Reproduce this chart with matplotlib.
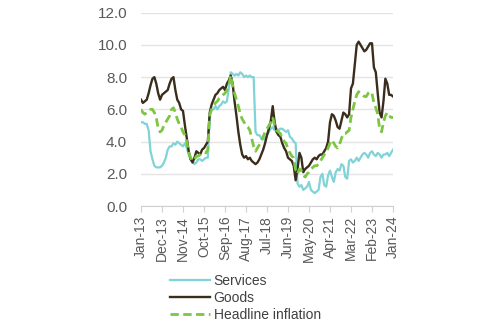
import matplotlib
matplotlib.use("Agg")
import matplotlib.pyplot as plt
import numpy as np

plt.rcParams['font.family'] = ['Liberation Sans', 'DejaVu Sans']

# monthly, Jan-13 .. Jan-24
tick_labels = ["Jan-13", "Dec-13", "Nov-14", "Oct-15", "Sep-16", "Aug-17", "Jul-18",
               "Jun-19", "May-20", "Apr-21", "Mar-22", "Feb-23", "Jan-24"]

services = [5.2, 5.2, 5.1, 5.1, 4.7, 3.4, 2.9, 2.5, 2.4, 2.4, 2.4, 2.5,
            2.7, 3.0, 3.5, 3.7, 3.7, 3.9, 3.8, 4.0, 3.9, 3.8, 3.7, 3.9,
            3.6, 3.2, 2.9, 2.8, 2.6, 2.7, 2.9, 2.9, 2.8, 2.9, 3.0, 3.0,
            5.5, 6.0, 6.0, 6.2, 6.0, 6.2, 6.3, 6.5, 6.4, 6.5, 7.3, 8.3,
            8.2, 8.1, 8.2, 8.1, 8.3, 8.2, 8.0, 8.1, 8.0, 8.1, 8.0, 8.0,
            4.6, 4.4, 4.4, 4.2, 4.3, 4.1, 4.4, 4.6, 4.8, 4.9, 4.7, 4.8,
            4.7, 4.8, 4.8, 4.7, 4.6, 4.7, 4.3, 4.2, 4.0, 3.9, 1.4, 1.2,
            1.3, 1.0, 1.1, 1.2, 1.5, 1.0, 0.9, 0.8, 0.9, 1.0, 1.8, 2.0,
            1.3, 1.2, 1.9, 2.2, 1.8, 1.5, 2.1, 2.3, 2.2, 2.6, 2.5, 1.8,
            1.7, 2.8, 2.9, 2.7, 2.8, 3.0, 2.8, 3.0, 3.2, 3.3, 3.2, 3.0,
            3.3, 3.4, 3.2, 3.1, 3.3, 3.2, 3.0, 3.2, 3.2, 3.3, 3.1, 3.3,
            3.5]

goods = [6.6, 6.4, 6.5, 6.6, 7.0, 7.5, 7.9, 8.0, 7.6, 7.0, 6.6, 6.9,
         7.0, 7.1, 7.2, 7.6, 7.9, 8.0, 7.2, 6.6, 6.4, 6.0, 5.9, 5.0,
         4.2, 3.4, 2.9, 2.7, 3.0, 3.4, 3.3, 3.2, 3.5, 3.6, 3.8, 4.0,
         5.8, 6.3, 6.6, 6.9, 7.0, 7.2, 7.3, 7.4, 7.2, 7.6, 7.8, 8.1,
         7.6, 6.5, 5.6, 4.6, 3.8, 3.2, 3.0, 3.1, 2.9, 3.0, 2.8, 2.7,
         2.6, 2.7, 2.9, 3.2, 3.5, 3.9, 4.4, 4.8, 5.3, 6.2, 5.2, 4.6,
         4.4, 4.3, 3.9, 3.6, 3.4, 3.0, 2.9, 2.8, 2.5, 1.6, 2.3, 3.3,
         3.0, 2.1, 2.3, 2.4, 2.5, 2.7, 2.9, 3.0, 2.9, 3.1, 3.2, 3.2,
         3.4, 3.6, 4.0, 5.2, 5.7, 5.6, 5.3, 4.9, 4.8, 5.3, 5.8, 5.7,
         5.5, 5.7, 7.3, 7.6, 8.8, 10.0, 10.2, 10.0, 9.8, 9.6, 9.7, 9.9,
         10.1, 10.1, 8.6, 8.3, 7.0, 5.8, 5.5, 6.5, 7.9, 7.6, 6.9, 6.9,
         6.8]

headline = [6.0, 5.8, 5.7, 5.8, 5.9, 6.0, 6.0, 5.8, 5.5, 4.8, 4.6, 4.7,
            5.0, 5.2, 5.4, 5.6, 6.0, 6.1, 5.8, 5.4, 5.1, 4.9, 4.6, 4.4,
            4.0, 3.3, 3.0, 2.8, 2.9, 3.1, 3.1, 3.2, 3.3, 3.3, 3.3, 3.5,
            5.7, 6.0, 6.2, 6.4, 6.5, 6.7, 6.8, 6.9, 7.0, 7.2, 7.5, 8.1,
            7.5, 7.0, 6.6, 6.2, 5.7, 5.4, 5.2, 5.0, 4.9, 4.7, 4.2, 3.7,
            3.4, 3.6, 3.8, 4.0, 4.3, 4.6, 4.8, 5.0, 5.2, 5.5, 5.0, 4.7,
            4.6, 4.5, 4.2, 4.0, 3.9, 3.5, 3.3, 3.1, 3.0, 2.2, 2.0, 2.3,
            2.2, 1.9, 1.8, 2.0, 2.1, 2.3, 2.4, 2.5, 2.5, 2.6, 2.8, 3.0,
            3.2, 3.3, 3.6, 3.9, 4.1, 3.9, 3.7, 3.6, 3.8, 4.2, 4.5, 4.5,
            4.6, 4.7, 5.5, 6.0, 6.5, 6.9, 7.1, 7.0, 6.9, 6.8, 6.8, 7.0,
            7.1, 7.0, 6.4, 6.1, 5.7, 4.8, 4.6, 5.2, 5.6, 5.8, 5.6, 5.5,
            5.5]

x = np.arange(len(goods))

fig = plt.figure(figsize=(5, 3.25), dpi=100)
ax = fig.add_axes([0.282, 0.366, 0.504, 0.595])

ax.plot(x, services, color='#80d3d6', lw=1.6, label='Services')
ax.plot(x, goods, color='#3a2d1c', lw=1.7, label='Goods')
ax.plot(x, headline, color='#7dc642', lw=2.0, ls=(0, (3, 1.6)), label='Headline inflation')

ax.set_xlim(0, len(goods) - 1)
ax.set_ylim(0, 12)
ax.set_yticks(np.arange(0, 12.1, 2))
ax.set_yticklabels(['%.1f' % v for v in np.arange(0, 12.1, 2)])
ax.set_xticks(np.arange(0, len(goods), 11))
ax.set_xticklabels(tick_labels, rotation=90)

ax.yaxis.grid(True, color='#e4e4e4', lw=1)
ax.set_axisbelow(True)
for s in ['top', 'right', 'left']:
    ax.spines[s].set_visible(False)
ax.spines['bottom'].set_color('#d0d0d0')
ax.tick_params(axis='y', length=0, pad=10, labelsize=11, labelcolor='#595959')
ax.tick_params(axis='x', length=4, color='#d0d0d0', pad=3, labelsize=10, labelcolor='#595959')

fig.legend(loc='upper left', bbox_to_anchor=(0.34, 0.157), frameon=False,
           fontsize=10, handlelength=2.9, handletextpad=0.25, labelspacing=0.2,
           borderaxespad=0, borderpad=0, labelcolor='#404040')

fig.savefig('out.png', dpi=100)
